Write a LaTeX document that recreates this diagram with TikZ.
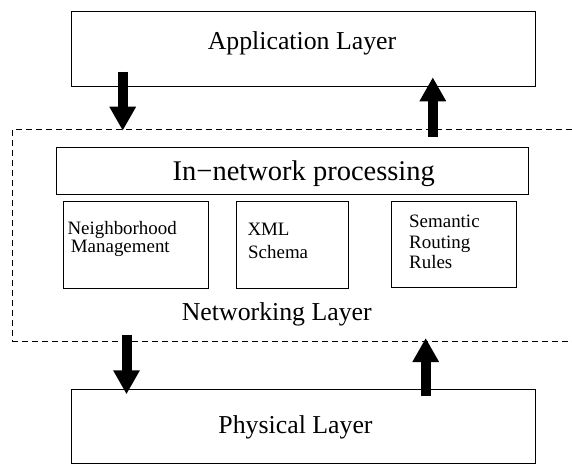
\documentclass[tikz,border=0pt]{standalone}
\usepackage{fontspec}
\setmainfont{Liberation Serif}
\usetikzlibrary{arrows.meta}
\begin{document}
\begin{tikzpicture}[x=1bp,y=-1bp,
  layerbox/.style={draw, line width=0.9bp, inner sep=0, anchor=north west},
  bigtext/.style={font=\fontsize{25.9pt}{30pt}\selectfont, inner sep=0, anchor=base},
  smalltext/.style={font=\fontsize{19pt}{22pt}\selectfont, inner sep=0, anchor=base west},
  flow/.style={line width=10bp, -{Triangle[length=24bp,width=25bp]}},
  groupframe/.style={line width=0.9bp, dash pattern=on 6bp off 4bp}]

\useasboundingbox (0,0) rectangle (572,464);

% layer boxes
\node[layerbox, minimum width=464.3bp, minimum height=75.3bp] (app) at (70.7,10.7) {};
\node[layerbox, minimum width=471.5bp, minimum height=46.5bp] (inproc) at (56,147.5) {};
\node[layerbox, minimum width=144.7bp, minimum height=86.4bp] (nbr) at (63.3,201.3) {};
\node[layerbox, minimum width=111.7bp, minimum height=86.4bp] (xml) at (236,201.3) {};
\node[layerbox, minimum width=125bp, minimum height=86bp] (sem) at (391,201.3) {};
\node[layerbox, minimum width=464.3bp, minimum height=73.7bp] (phys) at (70.7,389) {};

% networking layer frame (open on the right)
\draw[groupframe] (572,129.5) -- (12.7,129.5) -- (12.7,341.3) -- (572,341.3);

% labels
\node[bigtext] (applbl) at (302,50) {Application Layer};
\node[bigtext, font=\fontsize{28.6pt}{32pt}\selectfont] (inproclbl) at (303.8,180.3) {In−network processing};
\node[bigtext] (netlbl) at (276.8,320) {Networking Layer};
\node[bigtext] (physlbl) at (295.5,433.3) {Physical Layer};

\node[smalltext] (nbr1) at (67.3,234.3) {Neighborhood};
\node[smalltext] (nbr2) at (70.7,252.7) {Management};
\node[smalltext] (xml1) at (247.3,235.7) {XML};
\node[smalltext] (xml2) at (248,258.3) {Schema};
\node[smalltext] (sem1) at (409,227.3) {Semantic};
\node[smalltext] (sem2) at (409,248.3) {Routing};
\node[smalltext] (sem3) at (409,269) {Rules};

% data flow arrows
\coordinate (downA) at (122.7,71.7);
\coordinate (downB) at (122.7,130.7);
\coordinate (upA) at (432.8,136.7);
\coordinate (upB) at (432.8,77.3);
\coordinate (downC) at (126.5,334.7);
\coordinate (downD) at (126.5,394.3);
\coordinate (upC) at (425.7,396);
\coordinate (upD) at (425.7,338);

\draw[flow] (downA) -- (downB);
\draw[flow] (upA) -- (upB);
\draw[flow] (downC) -- (downD);
\draw[flow] (upC) -- (upD);
\end{tikzpicture}
\end{document}
